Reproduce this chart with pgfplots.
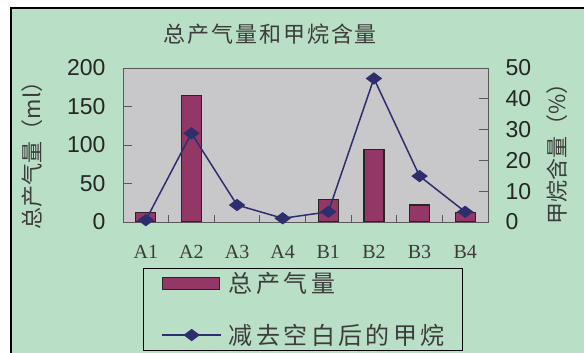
\documentclass[border=0pt]{standalone}
\usepackage{pgfplots}
\usepackage{pgfplotstable}
\pgfplotsset{compat=1.18}
\usepackage{fontspec}
\setmainfont{Liberation Sans}
\newfontfamily\serif{Liberation Serif}
\newfontfamily\cjk{Noto Sans CJK SC}
\newfontfamily\cjktitle[LetterSpace=9]{Noto Sans CJK SC}
\newfontfamily\cjklegend[LetterSpace=14]{Noto Sans CJK SC}

\definecolor{pagebg}{HTML}{B9E0C6}
\definecolor{plotbg}{HTML}{C8C8CA}
\definecolor{barfill}{HTML}{933866}
\definecolor{linecol}{HTML}{2E2E6E}
\definecolor{framecol}{HTML}{5A5A5A}
\definecolor{textgray}{HTML}{3C3C3C}

% methane content (%) per sample
\pgfplotstableread{
idx cat methane
0 A1 0.6
1 A2 28.8
2 A3 5.5
3 A4 1.2
4 B1 3.3
5 B2 46.6
6 B3 14.9
7 B4 3.3
}\methanetable

\pgfplotsset{
  common/.style={
    at={(123pt,131pt)}, anchor=south west,
    scale only axis, width=365pt, height=154pt,
    xmin=-0.5, xmax=7.5,
    tick align=inside,
    major tick length=9pt,
    /pgf/number format/assume math mode=true,
  },
  barlegend/.style={legend image code/.code={
    \draw[fill=barfill, draw=black!85, line width=1.2pt] (0pt,-6pt) rectangle (57pt,6pt);}},
  linelegend/.style={legend image code/.code={
    \draw[##1, mark repeat=2, mark phase=2] plot coordinates {(0pt,0pt) (29.5pt,0pt) (59pt,0pt)};}},
}

\begin{document}
\begin{tikzpicture}
\path[use as bounding box] (0pt,0pt) rectangle (584pt,353pt);
\fill[white] (0pt,0pt) rectangle (584pt,353pt);
\fill[pagebg] (11pt,0pt) rectangle (584pt,345pt);
\draw[black, line width=1.5pt] (11pt,0pt) -- (11pt,345pt) -- (584pt,345pt);

% left axis: total gas production (bars); A3 and A4 produced none
\begin{axis}[
  common,
  ymin=0, ymax=200,
  axis background/.style={fill=plotbg},
  axis line style={framecol, line width=0.9pt},
  xtick={0,...,7},
  xticklabels={A1,A2,A3,A4,B1,B2,B3,B4},
  major x tick style={draw=none},
  minor xtick={0.5,1.5,...,6.5},
  minor x tick style={framecol, line width=0.9pt},
  minor tick length=7pt,
  xticklabel style={font=\serif\fontsize{20}{20}\selectfont, text=textgray, yshift=-20pt},
  ytick={0,50,...,200},
  ytick pos=left, xtick pos=bottom,
  y tick style={framecol, line width=0.9pt},
  yticklabel style={font=\fontsize{23}{23}\selectfont, text=black!85, xshift=-14pt},
  title={\cjktitle 总产气量和甲烷含量},
  title style={at={(axis description cs:0.403,1.18)}, anchor=center, text=textgray, font=\fontsize{22}{22}\selectfont},
  ylabel={\cjk 总产气量（ml）},
  every axis y label/.style={at={(axis description cs:-0.249,0.468)}, rotate=90, anchor=center, text=textgray, font=\fontsize{22}{22}\selectfont},
]
\addplot[ybar, bar width=20pt, fill=barfill, draw=black!85, line width=1.2pt]
  coordinates {(0,12) (1,164) (4,29) (5,94) (6,22) (7,12)};
\end{axis}

% right axis: methane content (line)
\begin{axis}[
  common,
  ymin=0, ymax=50,
  axis x line=none, axis y line*=right,
  axis line style={framecol, line width=0.9pt},
  ytick={0,10,...,50},
  y tick style={framecol, line width=0.9pt},
  yticklabel style={font=\fontsize{23}{23}\selectfont, text=black!85, xshift=14pt},
  ylabel={\cjk 甲烷含量（\%）},
  every axis y label/.style={at={(axis description cs:1.189,0.477)}, rotate=90, anchor=center, text=textgray, font=\fontsize{22}{22}\selectfont},
  clip=false,
  legend style={at={(axis description cs:0.055,-0.299)}, anchor=north west,
    draw=black, line width=0.8pt, fill=none,
    inner xsep=18pt, inner ysep=2pt, row sep=26pt,
    nodes={inner xsep=7pt, inner ysep=2pt},
    font=\cjklegend\fontsize{24}{24}\selectfont, text=textgray},
  legend cell align=left,
]
\addlegendimage{barlegend}
\addlegendentry{\makebox[208pt][l]{总产气量}}
\addplot[linecol, line width=1.5pt, mark=diamond*, mark size=7pt,
  mark options={rotate=90, fill=linecol, solid}, linelegend]
  table[x=idx, y=methane] \methanetable;
\addlegendentry{\makebox[208pt][l]{减去空白后的甲烷}}
\end{axis}
\end{tikzpicture}
\end{document}
